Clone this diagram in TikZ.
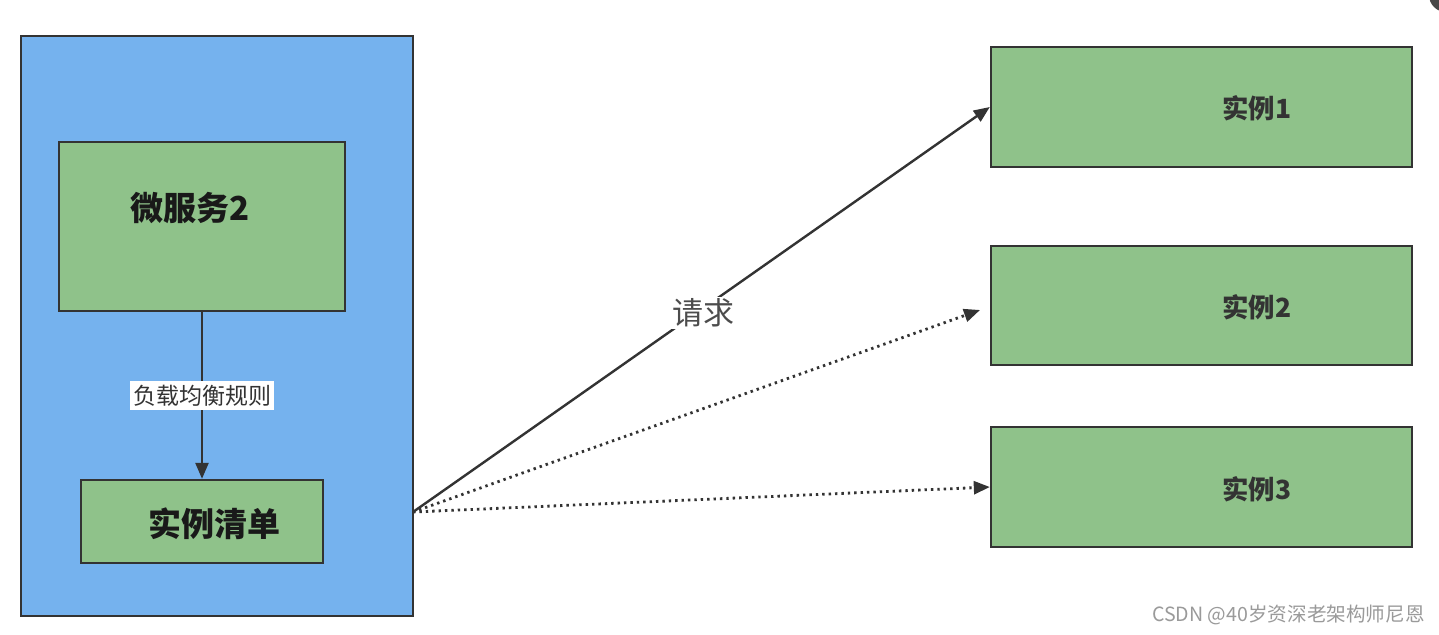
\documentclass[tikz,border=0pt]{standalone}
\usepackage{fontspec}
\setmainfont{Noto Sans CJK SC}
\usetikzlibrary{arrows.meta}
\definecolor{bluefill}{HTML}{75B2EE}
\definecolor{greenfill}{HTML}{8FC28A}
\definecolor{edge}{HTML}{333333}
\definecolor{wm}{HTML}{9A9A9A}
\tikzset{
  box/.style={draw=edge, line width=1.2pt, rectangle, inner sep=0pt},
  gbox/.style={box, fill=greenfill},
  btext/.style={font=\bfseries\fontsize{#1}{#1}\selectfont, text=black!90, inner sep=0pt},
  link/.style={draw=edge, line width=1.2pt, -{Triangle[length=8pt,width=6.5pt]}},
  dotlink/.style={link, dash pattern=on 1.2pt off 2pt, line width=1.4pt},
}
\begin{document}
\begin{tikzpicture}[x=0.5pt,y=-0.5pt]
\useasboundingbox (0,0) rectangle (1439,634);
\fill[white] (0,0) rectangle (1439,634);
\begin{scope}
\clip (0,0) rectangle (1439,634);
\fill[edge!90] (1446,-5) circle (17);
\end{scope}
% left container
\node[box, fill=bluefill, minimum width=196pt, minimum height=290pt] (outer) at (217,326) {};
\node[gbox, minimum width=143pt, minimum height=84.5pt] (ms) at (202,226.5) {};
\node[btext=16.5pt] (mstext) at (190,208) {微服务2};
\node[gbox, minimum width=121pt, minimum height=41.5pt] (list) at (202,521.5) {};
\node[btext=16.5pt] (listtext) at (214,524) {实例清单};
\draw[link] (ms.south) -- (list.north)
  node[midway, fill=white, text=edge, font=\fontsize{11.5pt}{12pt}\selectfont, inner xsep=1.5pt, inner ysep=2pt] (lbrule) {负载均衡规则};
% instances
\node[gbox, minimum width=210.5pt, minimum height=60pt] (i1) at (1201.5,107) {};
\node[gbox, minimum width=210.5pt, minimum height=59.5pt] (i2) at (1201.5,305.5) {};
\node[gbox, minimum width=210.5pt, minimum height=60pt] (i3) at (1201.5,487) {};
\node[btext=13.2pt, text=edge] (t1) at (1257,108) {实例1};
\node[btext=13.2pt, text=edge] (t2) at (1257,307) {实例2};
\node[btext=13.2pt, text=edge] (t3) at (1257,489) {实例3};
% connectors
\coordinate (src) at (413,512);
\coordinate (e2) at (980,310);
\draw[link] (src) -- (i1.west);
\node[fill=white, text=black!70, font=\fontsize{15.5pt}{16pt}\selectfont, inner sep=1pt] (req) at (703,313) {请求};
\draw[dotlink] (src) -- (e2);
\draw[dotlink] (src) -- (i3.west);
% watermark
\node[anchor=east, text=wm, font=\fontsize{9.8pt}{10pt}\selectfont, inner sep=0pt] (wmark) at (1425,615) {CSDN @40岁资深老架构师尼恩};
\end{tikzpicture}
\end{document}
